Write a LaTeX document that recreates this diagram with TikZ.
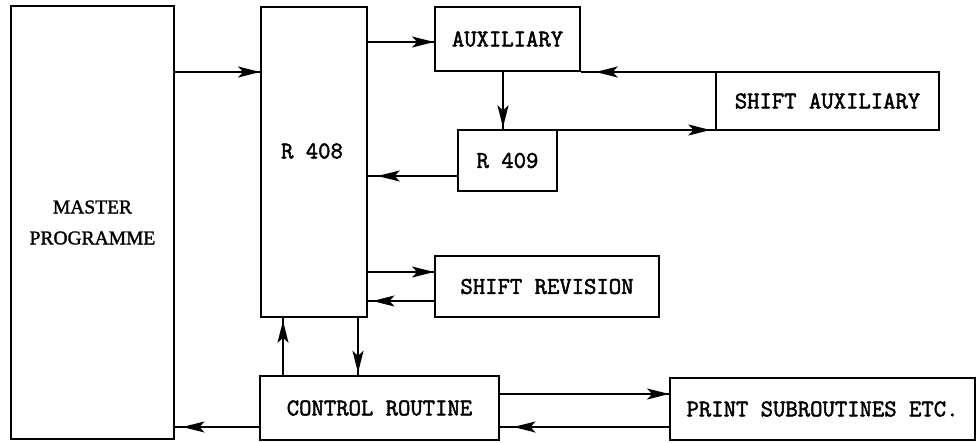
\documentclass[tikz,border=0pt]{standalone}
\usepackage{fontspec}
\newfontfamily\serifcap{Liberation Serif}[FakeBold=1.5]
\newfontfamily\typew{Latin Modern Mono}[FakeBold=2]
\usetikzlibrary{arrows.meta,decorations.markings,calc}
\begin{document}
\begin{tikzpicture}[x=1pt,y=-1pt,
  box/.style={draw,line width=1.8pt,inner sep=0pt,font=\fontsize{24}{24}\selectfont\typew},
  conn/.style={line width=1.8pt},
  tipat/.style={conn,postaction={decorate},decoration={markings,
     mark=at position #1 with {\arrow{Stealth[length=22pt,width=11pt,inset=5pt]}}}}
]
\useasboundingbox (0,0) rectangle (976,442);
\fill[white] (0,0) rectangle (976,442);
% boxes
\node[box,minimum width=163pt,minimum height=433pt,align=center,
  font=\fontsize{19.5}{31}\selectfont\serifcap] (mp) at (92.5,222.5) {MASTER\\PROGRAMME};
\node[box,minimum width=106pt,minimum height=310pt] (r408) at (314,162) {};
\node[font=\fontsize{24}{24}\selectfont\typew] (r408t) at (312,151) {R 408};
\node[box,minimum width=145pt,minimum height=64pt] (aux) at (507.5,39) {AUXILIARY};
\node[box,minimum width=223pt,minimum height=58pt] (saux) at (827.5,101) {SHIFT AUXILIARY};
\node[box,minimum width=99pt,minimum height=61pt] (r409) at (507.5,160.5) {R 409};
\node[box,minimum width=224pt,minimum height=61pt] (srev) at (547,286.5) {SHIFT REVISION};
\node[box,minimum width=239pt,minimum height=64pt] (ctrl) at (379.5,408) {CONTROL ROUTINE};
\node[box,minimum width=305pt,minimum height=62pt] (print) at (822.5,409) {PRINT SUBROUTINES ETC.};
% helper levels
\coordinate (y42) at (0,42);
\coordinate (y72) at (0,72);
\coordinate (y130) at (0,130);
\coordinate (y176) at (0,176);
\coordinate (y272) at (0,272);
\coordinate (y301) at (0,301);
\coordinate (y394) at (0,394);
\coordinate (y427) at (0,427);
\coordinate (x283) at (283,0);
\coordinate (x358) at (358,0);
\coordinate (x503) at (503,0);
% connectors
\draw[tipat=1] (mp.east |- y72) -- (r408.west |- y72);
\draw[tipat=1] (r408.east |- y42) -- (aux.west |- y42);
\draw[tipat=0.89] (saux.west |- y72) -- (aux.east |- y72);
\draw[tipat=0.97] (x503 |- aux.south) -- (x503 |- r409.north);
\draw[tipat=0.97] (r409.east |- y130) -- (saux.west |- y130);
\draw[tipat=0.89] (r409.west |- y176) -- (r408.east |- y176);
\draw[tipat=1] (r408.east |- y272) -- (srev.west |- y272);
\draw[tipat=0.93] (srev.west |- y301) -- (r408.east |- y301);
\draw[tipat=0.95] (x283 |- ctrl.north) -- (x283 |- r408.south);
\draw[tipat=0.96] (x358 |- r408.south) -- (x358 |- ctrl.north);
\draw[tipat=0.91] (ctrl.west |- y427) -- (mp.east |- y427);
\draw[tipat=1] (ctrl.east |- y394) -- (print.west |- y394);
\draw[tipat=0.92] (print.west |- y427) -- (ctrl.east |- y427);
\end{tikzpicture}
\end{document}
